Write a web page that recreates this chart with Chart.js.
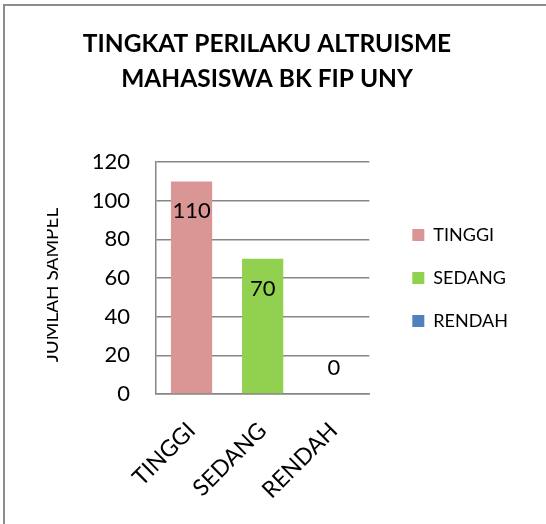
<!DOCTYPE html>
<html lang="id">
<head>
  <meta charset="UTF-8" />
  <title>Tingkat Perilaku Altruisme</title>
  <script src="https://cdn.jsdelivr.net/npm/chart.js"></script>
  <style>
    body { margin: 0; padding: 0; background: #fff; }
    canvas { display: block; }
  </style>
</head>
<body>
  <canvas id="altruismeChart" width="546" height="524"></canvas>
  <script>
    // Data
    const categories = ['TINGGI', 'SEDANG', 'RENDAH'];
    const values = [110, 70, 0];
    const barColors = ['#d99694', '#92d050', '#4f81bd'];
    const yTicks = [0, 20, 40, 60, 80, 100, 120];
    const titleLines = ['TINGKAT PERILAKU ALTRUISME', 'MAHASISWA BK FIP UNY'];
    const yTitle = 'JUMLAH SAMPEL';

    const FONT = 'Lato';
    const GRID = '#868686';

    // one dataset per category so the legend lists the categories
    const datasets = categories.map((cat, i) => ({
      label: cat,
      data: categories.map((c, j) => (j === i ? values[i] : null)),
      backgroundColor: barColors[i],
      borderWidth: 0,
      categoryPercentage: 1,
      barPercentage: 0.58,
      skipNull: true
    }));

    // frame of the picture (top and left edge only)
    const frame = {
      id: 'frame',
      beforeDraw(chart) {
        const c = chart.ctx;
        c.save();
        c.strokeStyle = '#8c8c8c';
        c.lineWidth = 2;
        c.beginPath();
        c.moveTo(4, 524);
        c.lineTo(4, 5);
        c.lineTo(546, 5);
        c.stroke();
        c.restore();
      }
    };

    // vertical axis title, cut on its left side as in the original
    const sideTitle = {
      id: 'sideTitle',
      afterDraw(chart) {
        const c = chart.ctx;
        c.save();
        c.beginPath();
        c.rect(47, 150, 40, 260);
        c.clip();
        c.translate(57.5, 285);
        c.rotate(-Math.PI / 2);
        c.font = `19px ${FONT}`;
        c.fillStyle = '#000';
        c.textAlign = 'center';
        c.textBaseline = 'alphabetic';
        c.fillText(yTitle, 0, 0);
        c.restore();
      }
    };

    // value labels
    const valueLabels = {
      id: 'valueLabels',
      afterDatasetsDraw(chart) {
        const c = chart.ctx;
        c.save();
        c.font = `22px ${FONT}`;
        c.fillStyle = '#000';
        c.textAlign = 'center';
        c.textBaseline = 'middle';
        chart.data.datasets.forEach((ds, i) => {
          const meta = chart.getDatasetMeta(i);
          ds.data.forEach((v, j) => {
            if (v === null) return;
            const el = meta.data[j];
            const y = v > 0 ? el.y + 30 : el.y - 26;
            c.fillText(String(v), el.x, y);
          });
        });
        c.restore();
      }
    };

    new Chart(document.getElementById('altruismeChart'), {
      type: 'bar',
      data: { labels: categories, datasets: datasets },
      plugins: [frame, sideTitle, valueLabels],
      options: {
        responsive: false,
        animation: false,
        layout: { padding: { left: 16, right: 28, top: 0, bottom: 0 } },
        scales: {
          x: {
            grid: { display: false },
            border: { display: true, color: GRID, width: 1.5 },
            ticks: {
              color: '#000',
              font: { family: FONT, size: 23 },
              minRotation: 45,
              maxRotation: 45,
              padding: 15
            },
            afterFit: s => { s.height = 130; }
          },
          y: {
            min: 0,
            max: 120,
            afterBuildTicks: s => { s.ticks = yTicks.map(v => ({ value: v })); },
            grid: { color: GRID, lineWidth: 1.5, drawTicks: false },
            border: { display: true, color: GRID, width: 1.5 },
            ticks: {
              color: '#000',
              font: { family: FONT, size: 22 },
              padding: 26
            },
            afterFit: s => { s.width = 140; }
          },
          gap: {
            position: 'right',
            display: true,
            grid: { display: false },
            border: { display: false },
            ticks: { display: false },
            afterFit: s => { s.width = 18; }
          }
        },
        plugins: {
          title: {
            display: true,
            text: titleLines,
            color: '#000',
            font: { family: FONT, size: 24.5, weight: 'bold', lineHeight: 1.45 },
            padding: { top: 26, bottom: 65 }
          },
          legend: {
            position: 'right',
            fullSize: false,
            align: 'center',
            maxWidth: 200,
            labels: {
              color: '#000',
              font: { family: FONT, size: 18 },
              boxWidth: 12,
              boxHeight: 12,
              padding: 25
            }
          },
          tooltip: { enabled: false }
        }
      }
    });
  </script>
</body>
</html>
